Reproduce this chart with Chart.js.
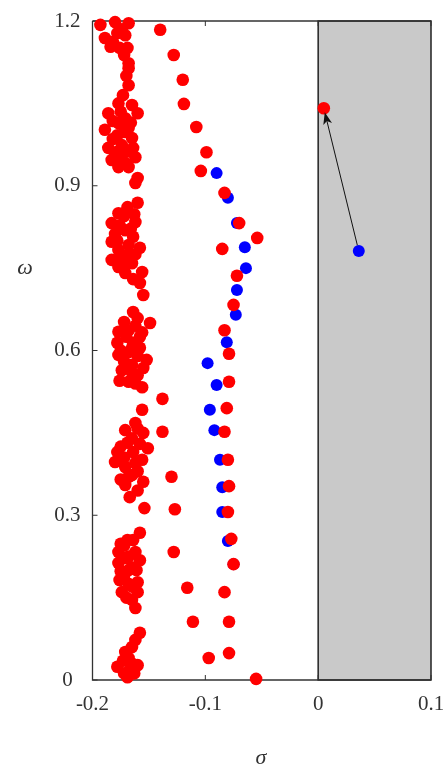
<!DOCTYPE html>
<html>
  <head>
    <title>sigma - omega</title>
    <style>
      body { margin: 0; background: #fff; }
      #wrap { width: 444px; height: 772px; }
    </style>
  </head>
  <body>
    <div id="wrap"><canvas id="chart"></canvas></div>

    <script src="https://cdn.jsdelivr.net/npm/chart.js"></script>
    <script>
      // axis ticks
      var xTickLabels = ["-0.2", "-0.1", "0", "0.1"];
      var yTickLabels = ["0", "0.3", "0.6", "0.9", "1.2"];

      // unstable region (sigma > 0)
      var shadedRange = [0, 0.1];

      // red eigenvalues, left band [sigma, omega]
      var redBand = [
        [-0.193, 1.193], [-0.180, 1.198], [-0.168, 1.196], [-0.189, 1.169], [-0.178, 1.178],
        [-0.171, 1.174], [-0.184, 1.153], [-0.176, 1.151], [-0.169, 1.151], [-0.168, 1.123],
        [-0.174, 1.185], [-0.182, 1.162], [-0.172, 1.138],
        [-0.168, 1.114], [-0.170, 1.100], [-0.168, 1.083], [-0.173, 1.065], [-0.177, 1.050],
        [-0.165, 1.047], [-0.186, 1.032], [-0.160, 1.032], [-0.171, 1.023], [-0.182, 1.018],
        [-0.177, 1.014], [-0.189, 1.002], [-0.168, 1.005], [-0.172, 0.998], [-0.178, 0.992],
        [-0.165, 0.987], [-0.174, 0.974], [-0.186, 0.969], [-0.164, 0.969], [-0.170, 0.962],
        [-0.180, 0.958], [-0.162, 0.952], [-0.183, 0.947], [-0.174, 0.947], [-0.168, 0.934],
        [-0.177, 0.934], [-0.160, 0.914], [-0.162, 0.905], [-0.175, 1.035], [-0.182, 0.985],
        [-0.166, 1.015], [-0.178, 0.962], [-0.170, 0.940],
        [-0.160, 0.869], [-0.169, 0.861], [-0.177, 0.850], [-0.172, 0.845], [-0.183, 0.832],
        [-0.162, 0.834], [-0.171, 0.819], [-0.180, 0.812], [-0.164, 0.807], [-0.183, 0.798],
        [-0.168, 0.792], [-0.158, 0.787], [-0.177, 0.783], [-0.162, 0.775], [-0.169, 0.774],
        [-0.175, 0.770], [-0.183, 0.765], [-0.165, 0.759], [-0.177, 0.752], [-0.156, 0.743],
        [-0.171, 0.741], [-0.158, 0.723], [-0.155, 0.701], [-0.176, 0.828], [-0.166, 0.822],
        [-0.178, 0.800], [-0.170, 0.758], [-0.163, 0.848], [-0.164, 0.730],
        [-0.164, 0.670], [-0.160, 0.659], [-0.149, 0.650], [-0.168, 0.637], [-0.177, 0.634],
        [-0.156, 0.633], [-0.170, 0.625], [-0.178, 0.614], [-0.164, 0.614], [-0.158, 0.605],
        [-0.175, 0.600], [-0.168, 0.597], [-0.177, 0.592], [-0.160, 0.590], [-0.152, 0.583],
        [-0.172, 0.580], [-0.165, 0.574], [-0.174, 0.564], [-0.165, 0.560], [-0.160, 0.555],
        [-0.176, 0.545], [-0.168, 0.543], [-0.156, 0.533], [-0.162, 0.645], [-0.172, 0.652],
        [-0.165, 0.605], [-0.155, 0.568], [-0.170, 0.570], [-0.162, 0.540], [-0.158, 0.625],
        [-0.156, 0.492], [-0.162, 0.468], [-0.171, 0.455], [-0.155, 0.450], [-0.165, 0.440],
        [-0.169, 0.432], [-0.175, 0.425], [-0.151, 0.422], [-0.178, 0.415], [-0.164, 0.415],
        [-0.156, 0.401], [-0.180, 0.397], [-0.162, 0.395], [-0.171, 0.388], [-0.165, 0.373],
        [-0.168, 0.370], [-0.155, 0.361], [-0.171, 0.355], [-0.160, 0.345], [-0.167, 0.333],
        [-0.160, 0.458], [-0.158, 0.430], [-0.172, 0.405], [-0.160, 0.380], [-0.175, 0.365],
        [-0.158, 0.268], [-0.169, 0.255], [-0.172, 0.245], [-0.177, 0.233], [-0.162, 0.233],
        [-0.170, 0.222], [-0.158, 0.218], [-0.177, 0.213], [-0.165, 0.205], [-0.168, 0.200],
        [-0.172, 0.190], [-0.176, 0.182], [-0.160, 0.178], [-0.165, 0.170], [-0.174, 0.160],
        [-0.160, 0.160], [-0.170, 0.150], [-0.165, 0.146], [-0.162, 0.131], [-0.164, 0.255],
        [-0.175, 0.248], [-0.168, 0.225], [-0.161, 0.200], [-0.175, 0.198], [-0.168, 0.175],
        [-0.158, 0.086], [-0.162, 0.073], [-0.165, 0.060], [-0.171, 0.051], [-0.168, 0.040],
        [-0.173, 0.035], [-0.160, 0.027], [-0.178, 0.024], [-0.167, 0.018], [-0.163, 0.012],
        [-0.169, 0.005], [-0.172, 0.012], [-0.165, 0.030]
      ];

      // red eigenvalues, middle branch
      var redBranch = [
        [-0.140, 1.184], [-0.128, 1.138], [-0.120, 1.093], [-0.119, 1.049], [-0.108, 1.007],
        [-0.099, 0.961], [-0.104, 0.927], [-0.083, 0.887], [-0.070, 0.832], [-0.054, 0.805],
        [-0.085, 0.785], [-0.072, 0.736], [-0.075, 0.683], [-0.083, 0.637], [-0.079, 0.594],
        [-0.079, 0.543], [-0.081, 0.495], [-0.083, 0.452], [-0.080, 0.401], [-0.079, 0.353],
        [-0.080, 0.306], [-0.077, 0.257], [-0.075, 0.211], [-0.083, 0.160], [-0.079, 0.106],
        [-0.079, 0.049], [-0.055, 0.002],
        [-0.138, 0.512], [-0.138, 0.452], [-0.130, 0.370], [-0.154, 0.313], [-0.127, 0.311],
        [-0.128, 0.233], [-0.116, 0.168], [-0.111, 0.106], [-0.097, 0.040]
      ];

      // blue eigenvalues
      var blueBranch = [
        [-0.090, 0.923], [-0.080, 0.878], [-0.072, 0.832], [-0.065, 0.788], [-0.064, 0.750],
        [-0.072, 0.710], [-0.073, 0.665], [-0.081, 0.615], [-0.098, 0.577], [-0.090, 0.537],
        [-0.096, 0.492], [-0.092, 0.455], [-0.087, 0.401], [-0.085, 0.351], [-0.085, 0.306],
        [-0.080, 0.253], [-0.075, 0.211]
      ];

      // the mode that moves: blue (before) -> red (after)
      var arrowFrom = [0.036, 0.781];
      var arrowTo = [0.005, 1.041];

      function toXY(list) {
        return list.map(function (p) {
          return { x: p[0], y: p[1] };
        });
      }

      var redData = toXY(redBand.concat(redBranch, [arrowTo]));
      var blueData = toXY(blueBranch.concat([arrowFrom]));

      var serif = "'Liberation Serif', 'DejaVu Serif', serif";

      var framePlugin = {
        id: "frame",
        beforeDatasetsDraw: function (chart) {
          var ctx = chart.ctx;
          var a = chart.chartArea;
          var xs = chart.scales.x;
          var ys = chart.scales.y;
          ctx.save();
          // gray box
          var gx0 = xs.getPixelForValue(shadedRange[0]);
          var gx1 = xs.getPixelForValue(shadedRange[1]);
          ctx.fillStyle = "#c9c9c9";
          ctx.fillRect(gx0, a.top, gx1 - gx0, a.bottom - a.top);
          ctx.strokeStyle = "#222";
          ctx.lineWidth = 1.5;
          ctx.strokeRect(gx0, a.top, gx1 - gx0, a.bottom - a.top);
          // top and left/bottom lines
          ctx.strokeStyle = "#333";
          ctx.lineWidth = 1.3;
          ctx.beginPath();
          ctx.moveTo(a.left, a.top);
          ctx.lineTo(a.right, a.top);
          ctx.moveTo(a.left, a.top);
          ctx.lineTo(a.left, a.bottom);
          ctx.lineTo(a.right, a.bottom);
          ctx.stroke();
          // inward ticks
          ctx.lineWidth = 1;
          ctx.beginPath();
          xs.ticks.forEach(function (t) {
            var px = xs.getPixelForValue(t.value);
            ctx.moveTo(px, a.bottom);
            ctx.lineTo(px, a.bottom - 5);
            ctx.moveTo(px, a.top);
            ctx.lineTo(px, a.top + 5);
          });
          ys.ticks.forEach(function (t) {
            var py = ys.getPixelForValue(t.value);
            ctx.moveTo(a.left, py);
            ctx.lineTo(a.left + 5, py);
          });
          ctx.stroke();
          // axis titles
          ctx.fillStyle = "#333";
          ctx.font = "italic 22px " + serif;
          ctx.textAlign = "center";
          ctx.textBaseline = "middle";
          ctx.fillText("ω", 25, 268);
          ctx.fillText("σ", 261, 758);
          ctx.restore();
        },
        afterDatasetsDraw: function (chart) {
          var ctx = chart.ctx;
          var xs = chart.scales.x;
          var ys = chart.scales.y;
          var x0 = xs.getPixelForValue(arrowFrom[0]);
          var y0 = ys.getPixelForValue(arrowFrom[1]);
          var x1 = xs.getPixelForValue(arrowTo[0]);
          var y1 = ys.getPixelForValue(arrowTo[1]);
          var ang = Math.atan2(y1 - y0, x1 - x0);
          var sx = x0 + Math.cos(ang) * 6;
          var sy = y0 + Math.sin(ang) * 6;
          var ex = x1 - Math.cos(ang) * 4;
          var ey = y1 - Math.sin(ang) * 4;
          ctx.save();
          ctx.strokeStyle = "#111";
          ctx.fillStyle = "#111";
          ctx.lineWidth = 1;
          ctx.beginPath();
          ctx.moveTo(sx, sy);
          ctx.lineTo(ex - Math.cos(ang) * 8, ey - Math.sin(ang) * 8);
          ctx.stroke();
          ctx.beginPath();
          ctx.moveTo(ex, ey);
          ctx.lineTo(ex - Math.cos(ang - 0.35) * 13, ey - Math.sin(ang - 0.35) * 13);
          ctx.lineTo(ex - Math.cos(ang) * 9, ey - Math.sin(ang) * 9);
          ctx.lineTo(ex - Math.cos(ang + 0.35) * 13, ey - Math.sin(ang + 0.35) * 13);
          ctx.closePath();
          ctx.fill();
          ctx.restore();
        },
      };

      new Chart(document.getElementById("chart"), {
        type: "scatter",
        data: {
          datasets: [
            {
              label: "after",
              data: redData,
              backgroundColor: "#ff0000",
              pointRadius: 6.3,
              pointBorderWidth: 0,
              clip: false,
            },
            {
              label: "before",
              data: blueData,
              backgroundColor: "#0000ff",
              pointRadius: 6,
              pointBorderWidth: 0,
              clip: false,
            },
          ],
        },
        options: {
          responsive: true,
          maintainAspectRatio: false,
          animation: false,
          events: [],
          layout: { padding: { top: 21, right: 13, left: 0, bottom: 0 } },
          plugins: { legend: { display: false }, tooltip: { enabled: false } },
          scales: {
            x: {
              type: "linear",
              min: -0.2,
              max: 0.1,
              grid: { display: false, drawTicks: false },
              border: { display: false },
              ticks: {
                stepSize: 0.1,
                padding: 12,
                color: "#333",
                font: { family: serif, size: 21 },
                maxRotation: 0,
                autoSkip: false,
                callback: function (v, i) {
                  return xTickLabels[i];
                },
              },
              afterFit: function (s) {
                s.height = 92;
                s.paddingLeft = 0;
                s.paddingRight = 0;
              },
            },
            y: {
              type: "linear",
              min: 0,
              max: 1.2,
              grid: { display: false, drawTicks: false },
              border: { display: false },
              ticks: {
                stepSize: 0.3,
                padding: 12,
                crossAlign: "center",
                color: "#333",
                font: { family: serif, size: 21 },
                autoSkip: false,
                callback: function (v, i) {
                  return yTickLabels[i];
                },
              },
              afterFit: function (s) {
                s.width = 92.5;
                s.paddingTop = 0;
                s.paddingBottom = 0;
              },
            },
          },
        },
        plugins: [framePlugin],
      });
    </script>
  </body>
</html>
